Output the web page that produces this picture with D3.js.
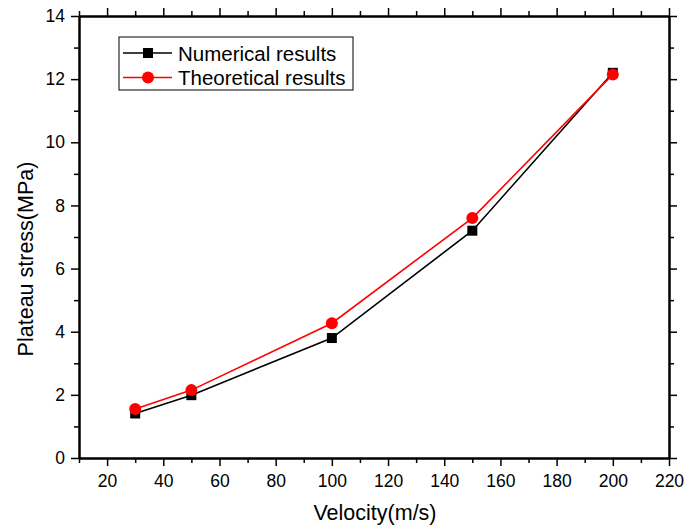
<!DOCTYPE html>
<html>
<head>
<meta charset="utf-8">
<script src="https://cdn.jsdelivr.net/npm/d3@7"></script>
<style>
  body { margin: 0; background: #fff; }
  text { font-family: "Liberation Sans", Arial, sans-serif; fill: #000; }
</style>
</head>
<body>
<script>
// data
var velocity = [30, 50, 100, 150, 200];
var numerical = [1.41, 1.99, 3.8, 7.2, 12.2];
var theoretical = [1.55, 2.15, 4.27, 7.6, 12.15];
var xTicks = [20, 40, 60, 80, 100, 120, 140, 160, 180, 200, 220];
var yTicks = [0, 2, 4, 6, 8, 10, 12, 14];
var seriesNames = ["Numerical results", "Theoretical results"];

var W = 684, H = 529;
var m = {left: 79, right: 15, top: 16, bottom: 71};

var svg = d3.select("body").append("svg").attr("width", W).attr("height", H);

var x = d3.scaleLinear().domain([10, 220]).range([m.left, W - m.right]);
var y = d3.scaleLinear().domain([0, 14]).range([H - m.bottom, m.top]);

var xMinor = d3.range(10, 221, 10).filter(function(v){ return xTicks.indexOf(v) < 0; });
var yMinor = d3.range(1, 14, 2);

function axisStyle(g){
    g.select(".domain").attr("stroke", "#000").attr("stroke-width", 2);
    g.selectAll(".tick line").attr("stroke", "#000").attr("stroke-width", 1.5);
    g.selectAll(".tick text").style("font-size", "17.5px").style("font-family", "Liberation Sans, Arial, sans-serif");
}

// bottom
svg.append("g").attr("transform", "translate(0," + (H - m.bottom) + ")")
   .call(d3.axisBottom(x).tickValues(xTicks).tickSize(8).tickSizeOuter(0).tickPadding(9))
   .call(axisStyle);
svg.append("g").attr("transform", "translate(0," + (H - m.bottom) + ")")
   .call(d3.axisBottom(x).tickValues(xMinor).tickSize(5).tickSizeOuter(0).tickFormat(""))
   .call(axisStyle);
// top
svg.append("g").attr("transform", "translate(0," + m.top + ")")
   .call(d3.axisTop(x).tickValues(xTicks).tickSize(8).tickSizeOuter(0).tickFormat(""))
   .call(axisStyle);
svg.append("g").attr("transform", "translate(0," + m.top + ")")
   .call(d3.axisTop(x).tickValues(xMinor).tickSize(5).tickSizeOuter(0).tickFormat(""))
   .call(axisStyle);
// left
svg.append("g").attr("transform", "translate(" + m.left + ",0)")
   .call(d3.axisLeft(y).tickValues(yTicks).tickSize(8).tickSizeOuter(0).tickPadding(6))
   .call(axisStyle);
svg.append("g").attr("transform", "translate(" + m.left + ",0)")
   .call(d3.axisLeft(y).tickValues(yMinor).tickSize(5).tickSizeOuter(0).tickFormat(""))
   .call(axisStyle);
// right
svg.append("g").attr("transform", "translate(" + (W - m.right) + ",0)")
   .call(d3.axisRight(y).tickValues(yTicks).tickSize(8).tickSizeOuter(0).tickFormat(""))
   .call(axisStyle);
svg.append("g").attr("transform", "translate(" + (W - m.right) + ",0)")
   .call(d3.axisRight(y).tickValues(yMinor).tickSize(5).tickSizeOuter(0).tickFormat(""))
   .call(axisStyle);

// titles
svg.append("text").attr("x", 375).attr("y", 519.5)
   .attr("text-anchor", "middle").style("font-size", "21.5px").text("Velocity(m/s)");
svg.append("text").attr("transform", "translate(33,259) rotate(-90)")
   .attr("text-anchor", "middle").style("font-size", "21.5px").text("Plateau stress(MPa)");

var line = d3.line().x(function(d){ return x(d[0]); }).y(function(d){ return y(d[1]); });
var numPts = velocity.map(function(v, i){ return [v, numerical[i]]; });
var theoPts = velocity.map(function(v, i){ return [v, theoretical[i]]; });

svg.append("path").datum(numPts).attr("d", line).attr("fill", "none").attr("stroke", "#000").attr("stroke-width", 1.6);
svg.selectAll("rect.num").data(numPts).enter().append("rect").attr("class", "num")
   .attr("x", function(d){ return x(d[0]) - 5; }).attr("y", function(d){ return y(d[1]) - 5; })
   .attr("width", 10).attr("height", 10).attr("fill", "#000");

svg.append("path").datum(theoPts).attr("d", line).attr("fill", "none").attr("stroke", "#ff0000").attr("stroke-width", 1.6);
svg.selectAll("circle.theo").data(theoPts).enter().append("circle").attr("class", "theo")
   .attr("cx", function(d){ return x(d[0]); }).attr("cy", function(d){ return y(d[1]); })
   .attr("r", 6).attr("fill", "#ff0000");

// legend
var lg = svg.append("g").attr("transform", "translate(119,37)");
lg.append("rect").attr("width", 234).attr("height", 53).attr("fill", "#fff").attr("stroke", "#000").attr("stroke-width", 1);
var rows = lg.selectAll("g.row").data(seriesNames).enter().append("g").attr("class", "row")
   .attr("transform", function(d, i){ return "translate(0," + (16 + i * 24.5) + ")"; });
rows.append("line").attr("x1", 4).attr("x2", 53).attr("y1", 0).attr("y2", 0)
   .attr("stroke", function(d, i){ return i ? "#ff0000" : "#000"; }).attr("stroke-width", 1.6);
rows.filter(function(d, i){ return i === 0; }).append("rect")
   .attr("x", 24).attr("y", -5).attr("width", 10).attr("height", 10).attr("fill", "#000");
rows.filter(function(d, i){ return i === 1; }).append("circle")
   .attr("cx", 29).attr("cy", 0).attr("r", 6).attr("fill", "#ff0000");
rows.append("text").attr("x", 59).attr("y", 7.5).style("font-size", "20.5px").text(function(d){ return d; });
</script>
</body>
</html>
